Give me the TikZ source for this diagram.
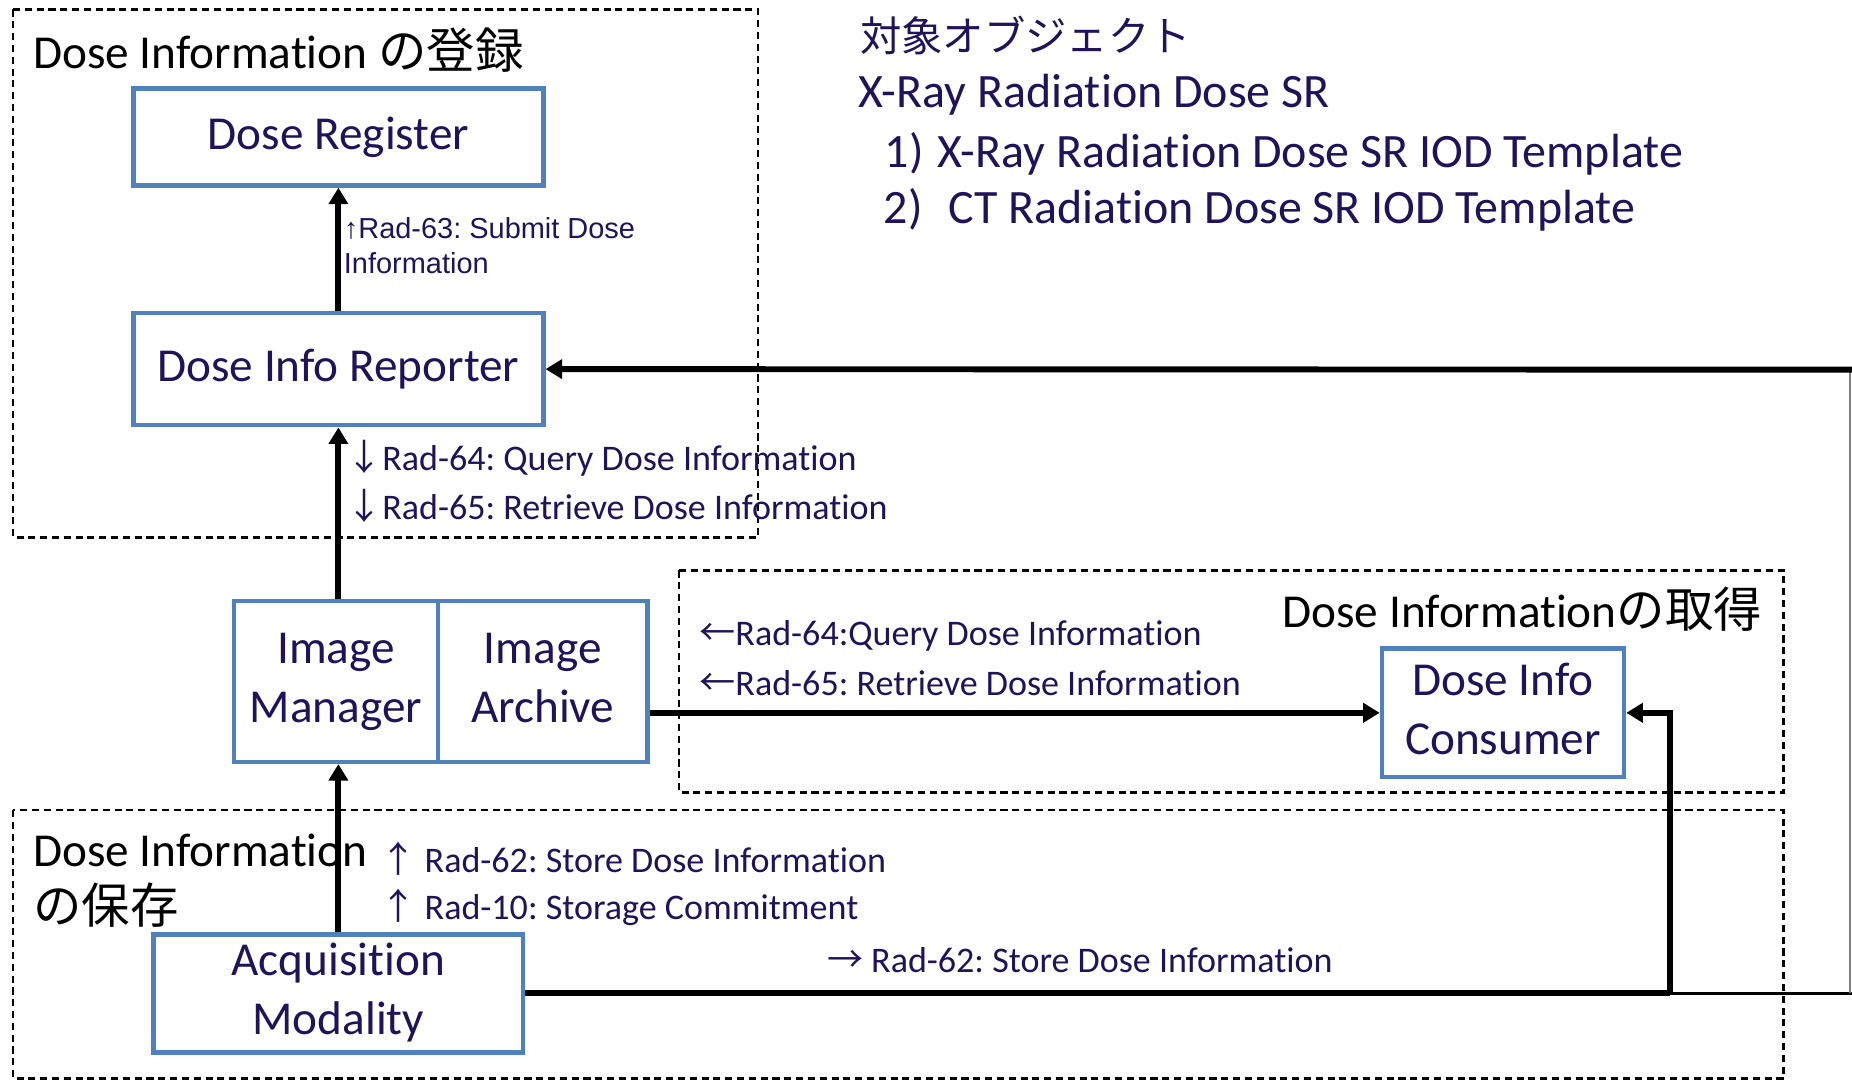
\documentclass[tikz,border=0pt]{standalone}
\usepackage{fontspec}
\setmainfont{Carlito}[Ligatures=NoCommon]
\newfontfamily\cjk{Noto Sans CJK JP}
\newfontfamily\arialf{Liberation Sans}
\usetikzlibrary{arrows.meta}
\definecolor{navy}{RGB}{33,19,89}
\definecolor{boxblue}{RGB}{79,129,189}
\newcommand\fsz[2]{\fontsize{#1}{#2}\selectfont}
\newcommand\arw[1]{{\cjk #1}}
\frenchspacing
\begin{document}
\begin{tikzpicture}[x=1pt,y=-1pt,
  box/.style={draw=boxblue,line width=3.8pt,fill=white,inner sep=0pt,text=navy,font=\fsz{40}{50},align=center},
  grp/.style={draw=black,line width=2pt,dash pattern=on 6pt off 4pt},
  conn/.style={line width=5pt,-{Triangle[length=14pt,width=16pt]}},
  plain/.style={line width=5pt},
  lbl/.style={anchor=west,inner sep=0pt,text=navy,font=\fsz{30.5}{40},align=left},
  ttl/.style={anchor=west,inner sep=0pt,text=black,font=\fsz{40}{46},align=left},
  hdr/.style={anchor=west,inner sep=0pt,text=navy,font=\fsz{40.6}{50}}]
\useasboundingbox[fill=white] (0,0) rectangle (1568,915);

% group frames
\draw[grp] (11,8) rectangle (642,455);
\draw[grp] (575,483) rectangle (1510,671);
\draw[grp] (11,686) rectangle (1510,913);

% group titles
\node[ttl] (t1) at (28,42) {Dose Information {\cjk\fsz{41}{46}の登録}};
\node[ttl,anchor=east] (t2) at (1492,516) {Dose Information{\cjk\fsz{41}{46}の取得}};
\node[ttl] (t3a) at (28,720) {Dose Information};
\node[ttl] (t3b) at (28,766) {\cjk\fsz{41}{46}の保存};

% object list
\node[anchor=west,inner sep=0pt,text=navy,font=\fsz{35}{40}\cjk] (obj) at (728,30) {対象オブジェクト};
\node[hdr] (o0) at (727,80) {X-Ray Radiation Dose SR};
\node[hdr] (o1) at (749,130) {1)\kern12pt X-Ray Radiation Dose SR IOD Template};
\node[hdr] (o2) at (748,178) {2)\kern22pt CT Radiation Dose SR IOD Template};

% actor boxes
\node[box,minimum width=347pt,minimum height=82pt] (reg) at (286.5,116) {Dose Register};
\node[box,minimum width=347pt,minimum height=95pt] (rep) at (286.5,312.5) {Dose Info Reporter};
\node[box,minimum width=173pt,minimum height=136pt] (mgr) at (284.5,577) {\strut Image\\\strut Manager};
\node[box,minimum width=177pt,minimum height=136pt] (arc) at (459.5,577) {\strut Image\\\strut Archive};
\node[box,minimum width=205pt,minimum height=109pt] (con) at (1272.5,603.5) {\strut Dose Info\\\strut Consumer};
\node[box,minimum width=313pt,minimum height=94pt] (mod) at (286.5,841) {\strut Acquisition\\\strut Modality};

% transaction labels
\node[anchor=west,inner sep=0pt,text=navy,font=\fsz{24.5}{30}\arialf,align=left] (l63) at (291,208) {↑Rad-63: Submit Dose\\Information};
\node[lbl] (l64) at (293,388) {\arw{↓}Rad-64: Query Dose Information};
\node[lbl] (l65) at (293,428) {\arw{↓}Rad-65: Retrieve Dose Information};
\node[lbl] (c64) at (592,538) {\arw{←}Rad-64:Query Dose Information};
\node[lbl] (c65) at (592,578) {\arw{←}Rad-65: Retrieve Dose Information};
\node[lbl] (s62) at (322,727) {\arw{↑} Rad-62: Store Dose Information};
\node[lbl] (s10) at (322,768) {\arw{↑} Rad-10: Storage Commitment};
\node[lbl] (r62) at (700,813) {\arw{→} Rad-62: Store Dose Information};

% junction points
\coordinate (j) at (1414,841);
\coordinate (jt) at (1414,603.5);
\coordinate (rb) at (1566.5,841);
\coordinate (rt) at (1566.5,313);
\coordinate (re) at (1568,841);

% connectors
\draw[conn] (rep.north) -- (reg.south);
\draw[conn] (mod.north |- mgr.north) -- (mod.north |- rep.south);
\draw[conn] (mod.north) -- (mod.north |- mgr.south);
\draw[conn] (arc.east |- con.west) -- (con.west);
\draw[plain] (mod.east) -- (j);
\draw[line width=3pt] (j) -- (re);
\draw[conn] (j) -- (jt) -- (con.east);
\draw[line width=1.4pt,draw=gray] (rb) -- (rt);
\draw[conn] (1568,313) -- (rep.east);
\end{tikzpicture}
\end{document}
